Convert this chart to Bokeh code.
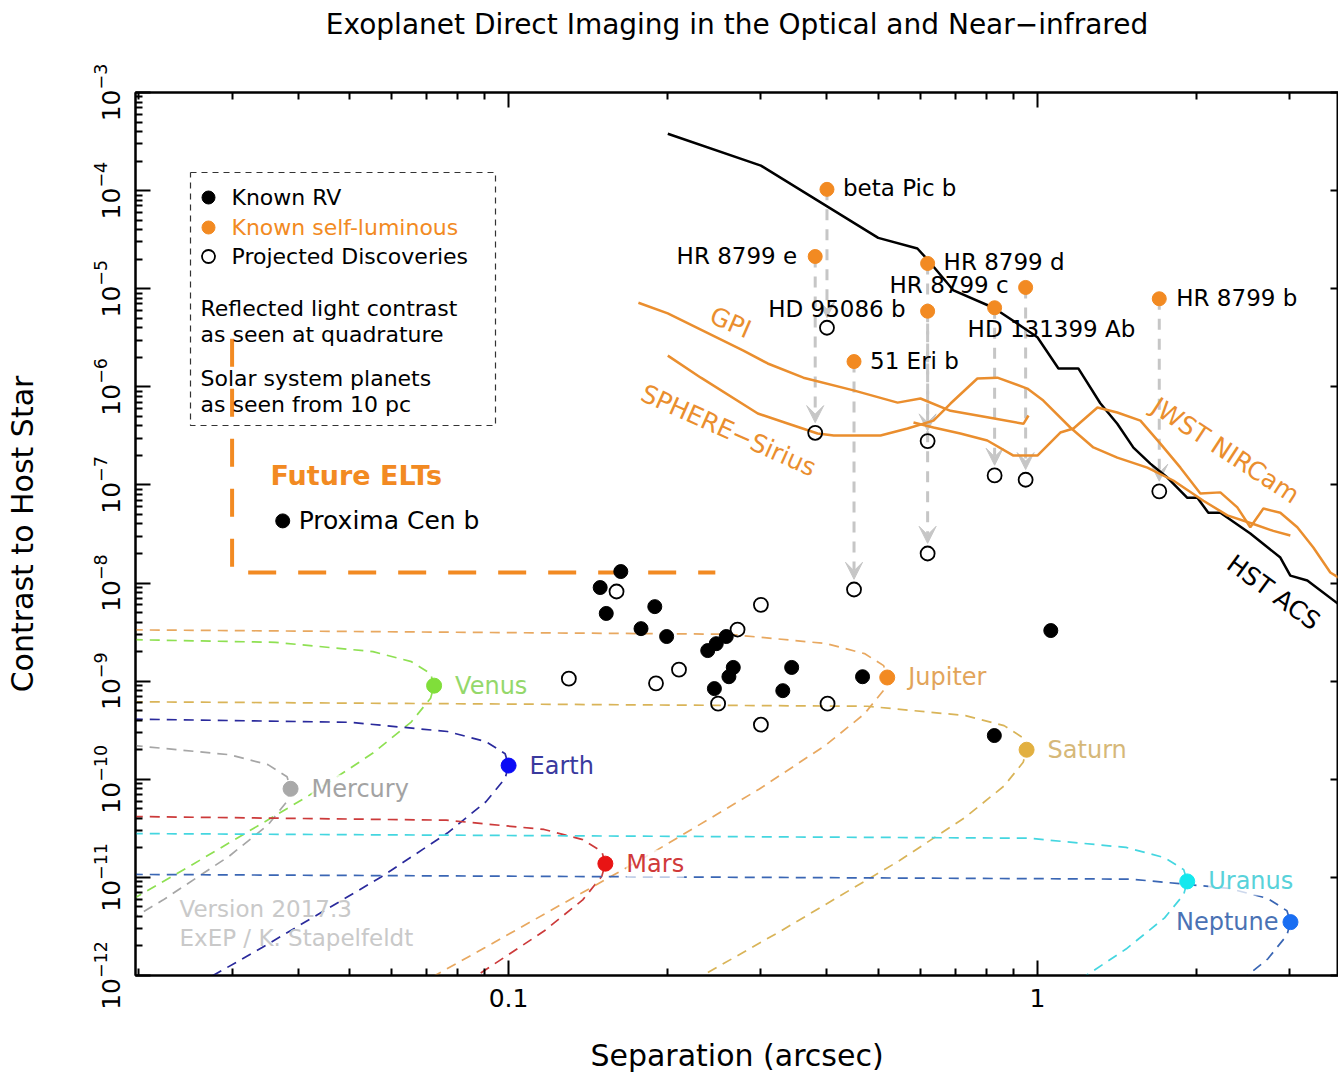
import numpy as np
from bokeh.plotting import figure
from bokeh.models import (LogAxis, FixedTicker, ColumnDataSource, Arrow, VeeHead,
                          CustomJSTickFormatter)
from bokeh.embed import file_html
from bokeh.resources import INLINE
from bokeh.core.properties import value

FONT = "DejaVu Sans"
TITLE = "Exoplanet Direct Imaging in the Optical and Near\u2212infrared"

# ------------------------------------------------------------------ axes / ticks
x_range = (0.0197, 3.71)
y_range = (1e-12, 1e-3)
x_major_ticks = [0.1, 1.0]
x_tick_labels = ["0.1", "1"]
x_minor_ticks = [0.02, 0.03, 0.04, 0.05, 0.06, 0.07, 0.08, 0.09,
                 0.2, 0.3, 0.4, 0.5, 0.6, 0.7, 0.8, 0.9, 2.0, 3.0]
y_major_ticks = [1e-12, 1e-11, 1e-10, 1e-9, 1e-8, 1e-7, 1e-6, 1e-5, 1e-4, 1e-3]
y_minor_ticks = [m * d for d in y_major_ticks[:-1] for m in range(2, 10)]

# ------------------------------------------------------------------ data
# Known RV planets (reflected light, quadrature)
rv_sep = [0.163, 0.149, 0.153, 0.189, 0.178, 0.199, 0.238, 0.247, 0.258, 0.266,
          0.261, 0.245, 0.343, 0.330, 0.467, 1.06, 0.829]
rv_con = [1.31e-8, 9.0e-9, 4.9e-9, 5.75e-9, 3.43e-9, 2.85e-9, 2.05e-9, 2.41e-9, 2.85e-9,
          1.38e-9, 1.11e-9, 8.4e-10, 1.38e-9, 8.0e-10, 1.11e-9, 3.28e-9, 2.79e-10]

# Projected discoveries (open circles)
proj_sep = [0.160, 0.300, 0.271, 0.130, 0.190, 0.210, 0.249, 0.401, 0.300]
proj_con = [8.2e-9, 6.0e-9, 3.36e-9, 1.06e-9, 9.5e-10, 1.31e-9, 5.9e-10, 5.9e-10, 3.6e-10]

# Known self-luminous planets and their projected reflected-light contrast
sl_names = ["beta Pic  b", "HR 8799 e", "HR 8799 d", "HD 95086 b", "HR 8799 c",
            "HD 131399 Ab", "51 Eri  b", "HR 8799 b"]
sl_sep = [0.40, 0.38, 0.62, 0.62, 0.95, 0.83, 0.45, 1.70]
sl_con = [1.03e-4, 2.13e-5, 1.81e-5, 5.9e-6, 1.03e-5, 6.4e-6, 1.81e-6, 7.9e-6]
sl_proj_con = [4.0e-6, 3.4e-7, 2.8e-7, 2.0e-8, 1.13e-7, 1.25e-7, 8.6e-9, 8.6e-8]

proxima_sep = [0.0374]
proxima_con = [4.3e-8]

# Future ELTs region
elt_sep = [0.030, 0.030, 0.246]
elt_con = [3.1e-6, 1.28e-8, 1.28e-8]

# Instrument contrast curves
hst_sep = [0.20, 0.30, 0.50, 0.593, 0.622, 0.694, 0.826, 0.929, 1.0, 1.096, 1.195, 1.315,
           1.416, 1.519, 1.635, 1.761, 1.921, 2.007, 2.105, 2.218, 2.527, 2.88, 3.008,
           3.239, 3.79]
hst_con = [3.8e-4, 1.8e-4, 3.3e-5, 2.57e-5, 1.94e-5, 9.6e-6, 6.4e-6, 4.2e-6, 3.2e-6,
           1.54e-6, 1.54e-6, 6.8e-7, 4.2e-7, 2.4e-7, 1.65e-7, 1.19e-7, 7.4e-8, 7.4e-8,
           5.2e-8, 5.2e-8, 3.2e-8, 1.82e-8, 1.19e-8, 1.06e-8, 5.6e-9]

gpi_sep = [0.176, 0.200, 0.278, 0.309, 0.361, 0.449, 0.544, 0.601, 0.685, 0.804, 0.941, 0.962]
gpi_con = [7.2e-6, 5.6e-6, 2.34e-6, 1.73e-6, 1.24e-6, 9.2e-7, 6.9e-7, 7.6e-7, 5.7e-7,
           4.9e-7, 4.2e-7, 5.1e-7]

sphere_sep = [0.200, 0.231, 0.296, 0.337, 0.384, 0.412, 0.505, 0.568, 0.636, 0.685, 0.770,
              0.840, 0.957, 1.026, 1.154, 1.276, 1.416, 1.614, 1.807, 2.06, 2.287, 2.561,
              2.793, 3.008]
sphere_con = [2.08e-6, 1.24e-6, 5.35e-7, 4.23e-7, 3.34e-7, 3.19e-7, 3.19e-7, 3.76e-7,
              4.53e-7, 6.76e-7, 1.215e-6, 1.24e-6, 9.6e-7, 7.25e-7, 3.85e-7, 2.41e-7,
              1.9e-7, 1.5e-7, 1.11e-7, 6.9e-8, 4.9e-8, 4.0e-8, 3.4e-8, 3.05e-8]

jwst_sep = [0.583, 0.636, 0.715, 0.804, 0.901, 1.0, 1.105, 1.17, 1.299, 1.416, 1.566,
            1.708, 1.864, 2.033, 2.218, 2.388, 2.527, 2.675, 2.88, 3.101, 3.325, 3.58, 3.79]
jwst_con = [4.33e-7, 3.85e-7, 3.34e-7, 2.84e-7, 1.99e-7, 1.99e-7, 3.42e-7, 3.76e-7,
            6.15e-7, 5.47e-7, 4.53e-7, 2.64e-7, 1.5e-7, 8.2e-8, 8.4e-8, 5.9e-8, 3.7e-8,
            5.75e-8, 5.2e-8, 3.7e-8, 2.3e-8, 1.28e-8, 1.06e-8]

# Solar system planets at 10 pc (quadrature points)
planet_names = ["Mercury", "Venus", "Earth", "Mars", "Jupiter", "Saturn", "Uranus", "Neptune"]
planet_sep = [0.0387, 0.0723, 0.100, 0.1524, 0.520, 0.954, 1.92, 3.01]
planet_con = [8.0e-11, 9.0e-10, 1.38e-10, 1.38e-11, 1.09e-9, 2.0e-10, 9.1e-12, 3.5e-12]

# Orbit tracks (separation, contrast)
mercury_orbit_sep = [0.01, 0.01935, 0.02964, 0.03507, 0.03811, 0.0387, 0.03811, 0.03507,
                     0.02964, 0.0222, 0.01324]
mercury_orbit_con = [2.52e-10, 2.22e-10, 1.78e-10, 1.41e-10, 1.06e-10, 8.0e-11, 5.95e-11,
                     3.42e-11, 1.65e-11, 5.87e-12, 1.12e-12]
venus_orbit_sep = [0.01, 0.0362, 0.0554, 0.0655, 0.0712, 0.0723, 0.0712, 0.0655, 0.0554,
                   0.0415, 0.0247, 0.0187, 0.0126]
venus_orbit_con = [2.83e-9, 2.49e-9, 2.0e-9, 1.58e-9, 1.19e-9, 9.0e-10, 6.7e-10, 3.85e-10,
                   1.85e-10, 6.6e-11, 1.26e-11, 5.3e-12, 1.6e-12]
earth_orbit_sep = [0.01, 0.050, 0.0766, 0.0906, 0.0985, 0.100, 0.0985, 0.0906, 0.0766,
                   0.0574, 0.0342, 0.0259]
earth_orbit_con = [4.33e-10, 3.81e-10, 3.07e-10, 2.42e-10, 1.82e-10, 1.38e-10, 1.02e-10,
                   5.9e-11, 2.83e-11, 1.01e-11, 1.93e-12, 8.2e-13]
mars_orbit_sep = [0.01, 0.0762, 0.1167, 0.1381, 0.1501, 0.1524, 0.1501, 0.1381, 0.1167,
                  0.0874, 0.0521]
mars_orbit_con = [4.35e-11, 3.83e-11, 3.08e-11, 2.43e-11, 1.83e-11, 1.38e-11, 1.03e-11,
                  5.9e-12, 2.84e-12, 1.01e-12, 1.94e-13]
jupiter_orbit_sep = [0.01, 0.26, 0.398, 0.471, 0.512, 0.520, 0.512, 0.471, 0.398, 0.298,
                     0.178, 0.0903, 0.0453]
jupiter_orbit_con = [3.42e-9, 3.01e-9, 2.42e-9, 1.91e-9, 1.44e-9, 1.09e-9, 8.1e-10,
                     4.65e-10, 2.23e-10, 7.96e-11, 1.52e-11, 1.93e-12, 2.42e-13]
saturn_orbit_sep = [0.01, 0.477, 0.731, 0.865, 0.940, 0.954, 0.940, 0.865, 0.731, 0.547,
                    0.326, 0.166]
saturn_orbit_con = [6.3e-10, 5.55e-10, 4.46e-10, 3.52e-10, 2.64e-10, 2.0e-10, 1.49e-10,
                    8.56e-11, 4.11e-11, 1.47e-11, 2.81e-12, 3.55e-13]
uranus_orbit_sep = [0.01, 0.96, 1.471, 1.74, 1.891, 1.92, 1.891, 1.74, 1.471, 1.101]
uranus_orbit_con = [2.85e-11, 2.51e-11, 2.02e-11, 1.59e-11, 1.2e-11, 9.1e-12, 6.7e-12,
                    3.87e-12, 1.86e-12, 6.6e-13]
neptune_orbit_sep = [0.01, 1.505, 2.306, 2.728, 2.964, 3.01, 2.964, 2.728, 2.306]
neptune_orbit_con = [1.09e-11, 9.6e-12, 7.72e-12, 6.09e-12, 4.57e-12, 3.5e-12, 2.58e-12,
                     1.48e-12, 7.1e-13]

orbits = {
    "Mercury": (mercury_orbit_sep, mercury_orbit_con),
    "Venus": (venus_orbit_sep, venus_orbit_con),
    "Earth": (earth_orbit_sep, earth_orbit_con),
    "Mars": (mars_orbit_sep, mars_orbit_con),
    "Jupiter": (jupiter_orbit_sep, jupiter_orbit_con),
    "Saturn": (saturn_orbit_sep, saturn_orbit_con),
    "Uranus": (uranus_orbit_sep, uranus_orbit_con),
    "Neptune": (neptune_orbit_sep, neptune_orbit_con),
}

# ------------------------------------------------------------------ styles
ORANGE = "#f28a22"
CURVE_ORANGE = "#ea8e2e"
ARROW_GRAY = "#c6c6c6"

planet_style = {
    "Mercury": dict(point="#a9a9a9", line="#a6a6a6", text="#a3a3a3", align="left", dx=21),
    "Venus":   dict(point="#80de3a", line="#8ee052", text="#94d86a", align="left", dx=21),
    "Earth":   dict(point="#0b0bf5", line="#2a2a9c", text="#3a3a9e", align="left", dx=21),
    "Mars":    dict(point="#e81414", line="#cc3a3a", text="#d03a3a", align="left", dx=21),
    "Jupiter": dict(point="#f28a22", line="#e8a860", text="#e2a45a", align="left", dx=21),
    "Saturn":  dict(point="#e2b040", line="#d9b458", text="#d6b878", align="left", dx=21),
    "Uranus":  dict(point="#14e8ee", line="#44d6e0", text="#58d2da", align="left", dx=21),
    "Neptune": dict(point="#1a6ef2", line="#3a66b4", text="#4a72b4", align="right", dx=-12),
}

sl_label_style = {  # (align, dx, dy) in screen pixels
    "beta Pic  b": ("left", 16, -1),
    "HR 8799 e": ("right", -18, -1),
    "HR 8799 d": ("left", 16, -1),
    "HD 95086 b": ("right", -22, -2),
    "HR 8799 c": ("right", -17, -2),
    "HD 131399 Ab": ("left", -27, 21),
    "51 Eri  b": ("left", 16, -1),
    "HR 8799 b": ("left", 17, -1),
}

# frame geometry on the page (used only to place annotations)
FRAME_L, FRAME_T, FRAME_W, FRAME_H = 135, 92, 1203, 883
_lx0, _lx1 = np.log10(x_range)
_ly0, _ly1 = np.log10(y_range)


def at(px, py):
    x = 10 ** (_lx0 + (px - FRAME_L) / FRAME_W * (_lx1 - _lx0))
    y = 10 ** (_ly1 - (py - FRAME_T) / FRAME_H * (_ly1 - _ly0))
    return x, y


# ------------------------------------------------------------------ figure
p = figure(x_axis_type="log", y_axis_type="log", x_range=x_range, y_range=y_range,
           frame_width=FRAME_W, frame_height=FRAME_H, output_backend="svg",
           toolbar_location=None, min_border_left=FRAME_L, min_border_top=FRAME_T,
           min_border_bottom=0, min_border_right=0)
p.grid.visible = False
p.outline_line_color = "black"
p.outline_line_width = 2
p.background_fill_color = "white"
p.border_fill_color = "white"


def style_axis(ax, major_in=15, minor_in=7):
    ax.axis_line_color = "black"
    ax.axis_line_width = 2
    ax.major_tick_in = major_in
    ax.major_tick_out = 0
    ax.minor_tick_in = minor_in
    ax.minor_tick_out = 0
    ax.major_tick_line_width = 2
    ax.minor_tick_line_width = 2
    ax.major_tick_line_color = "black"
    ax.minor_tick_line_color = "black"
    ax.major_label_text_font = FONT
    ax.major_label_text_color = "black"
    ax.axis_label_text_font = FONT
    ax.axis_label_text_color = "black"
    ax.axis_label_text_font_style = "normal"


xax = p.xaxis[0]
xax.ticker = FixedTicker(ticks=x_major_ticks, minor_ticks=x_minor_ticks)
xax.formatter = CustomJSTickFormatter(
    args=dict(major_vals=x_major_ticks, major_text=x_tick_labels),
    code="""
    for (let i = 0; i < major_vals.length; i++) {
        if (Math.abs(major_vals[i] - tick) < 1e-9 * Math.max(1, major_vals[i])) return major_text[i];
    }
    return String(tick);
    """)
style_axis(xax)
xax.major_label_text_font_size = "25px"
xax.major_label_standoff = 13
xax.axis_label = "Separation (arcsec)"
xax.axis_label_text_font_size = "30px"
xax.axis_label_standoff = 28

yax = p.yaxis[0]
yax.ticker = FixedTicker(ticks=y_major_ticks, minor_ticks=y_minor_ticks)
style_axis(yax)
yax.major_label_orientation = "vertical"
yax.major_label_text_font_size = "25px"
yax.major_label_standoff = 16
yax.axis_label = "Contrast to Host Star"
yax.axis_label_text_font_size = "30px"
yax.axis_label_standoff = 50

# top axis: ticks only, carries the chart title as its label
top_ax = LogAxis(ticker=FixedTicker(ticks=x_major_ticks, minor_ticks=x_minor_ticks))
style_axis(top_ax)
top_ax.major_label_text_font_size = "1px"
top_ax.major_label_text_alpha = 0
top_ax.major_label_standoff = 0
top_ax.axis_label = TITLE
top_ax.axis_label_text_font_size = "28px"
top_ax.axis_label_standoff = 52
p.add_layout(top_ax, "above")

right_ax = LogAxis(ticker=FixedTicker(ticks=y_major_ticks, minor_ticks=[]))
style_axis(right_ax, major_in=8, minor_in=0)
right_ax.major_label_text_font_size = "1px"
right_ax.major_label_text_alpha = 0
right_ax.major_label_standoff = 0
p.add_layout(right_ax, "right")

# ------------------------------------------------------------------ planet orbit tracks
for name in planet_names:
    s, c = orbits[name]
    p.line(s, c, line_color=planet_style[name]["line"], line_width=1.7, line_dash="10 7")

# ------------------------------------------------------------------ instrument curves
p.line(hst_sep, hst_con, line_color="black", line_width=2.5)
p.line(gpi_sep, gpi_con, line_color=CURVE_ORANGE, line_width=2.5)
p.line(sphere_sep, sphere_con, line_color=CURVE_ORANGE, line_width=2.5)
p.line(jwst_sep, jwst_con, line_color=CURVE_ORANGE, line_width=2.5)

# Future ELTs
p.line(elt_sep, elt_con, line_color=ORANGE, line_width=4, line_dash="28 22")

# arrows from self-luminous to projected reflected light
arrow_src = ColumnDataSource(dict(x0=sl_sep, y0=sl_con, x1=sl_sep,
                                  y1=[c * 1.27 for c in sl_proj_con]))
p.add_layout(Arrow(end=VeeHead(size=17, fill_color=ARROW_GRAY, line_color=ARROW_GRAY),
                   x_start="x0", y_start="y0", x_end="x1", y_end="y1", source=arrow_src,
                   line_color=ARROW_GRAY, line_width=3, line_dash="11 9", level="underlay"))

# ------------------------------------------------------------------ points
p.scatter(rv_sep, rv_con, size=14, color="black")
p.scatter(proj_sep, proj_con, size=14, fill_color=None, line_color="black", line_width=1.8)
p.scatter(sl_sep, sl_proj_con, size=14, fill_color=None, line_color="black", line_width=1.8)
p.scatter(sl_sep, sl_con, size=14, color=ORANGE)
p.scatter(proxima_sep, proxima_con, size=14, color="black")
p.scatter(planet_sep, planet_con, size=15,
          color=[planet_style[n]["point"] for n in planet_names])

# ------------------------------------------------------------------ labels
for align in ("left", "right"):
    idx = [i for i, n in enumerate(sl_names) if sl_label_style[n][0] == align]
    p.text(x=[sl_sep[i] for i in idx], y=[sl_con[i] for i in idx],
           text=[sl_names[i] for i in idx],
           x_offset=[sl_label_style[sl_names[i]][1] for i in idx],
           y_offset=[sl_label_style[sl_names[i]][2] for i in idx],
           text_font=value(FONT), text_font_size="23px", text_color="black",
           text_align=align, text_baseline="middle")

p.text(x=proxima_sep, y=proxima_con, text=["Proxima Cen b"], x_offset=16,
       text_font=value(FONT), text_font_size="25px", text_color="black",
       text_align="left", text_baseline="middle")

for i, n in enumerate(planet_names):
    st = planet_style[n]
    p.text(x=[planet_sep[i]], y=[planet_con[i]], text=[n], x_offset=st["dx"],
           text_font=value(FONT), text_font_size="24px", text_color=st["text"],
           text_align=st["align"], text_baseline="middle",
           background_fill_color="white", background_fill_alpha=0.75)

# rotated instrument labels
rot_labels = [
    ("GPI", 730, 322, -0.41, CURVE_ORANGE),
    ("SPHERE\u2212Sirius", 728, 430, -0.42, CURVE_ORANGE),
    ("JWST NIRCam", 1225, 450, -0.58, CURVE_ORANGE),
    ("HST ACS", 1273, 592, -0.63, "black"),
]
for t, px, py, ang, col in rot_labels:
    x, y = at(px, py)
    p.text(x=[x], y=[y], text=[t], angle=ang, text_font=value(FONT),
           text_font_size="25px", text_color=col, text_align="center",
           text_baseline="middle")

x, y = at(270, 475)
p.text(x=[x], y=[y], text=["Future ELTs"], text_font=value(FONT), text_font_size="27px",
       text_font_style="bold", text_color=ORANGE, text_align="left", text_baseline="middle")

for t, py in (("Version 2017.3", 908), ("ExEP / K. Stapelfeldt", 937)):
    x, y = at(179, py)
    p.text(x=[x], y=[y], text=[t], text_font=value(FONT), text_font_size="23px",
           text_color="#c9c9c9", text_align="left", text_baseline="middle")

# ------------------------------------------------------------------ legend box
bl, bt = at(190, 172)
br, bb = at(495, 425)
p.line([bl, br, br, bl, bl], [bt, bt, bb, bb, bt], line_color="#333333", line_width=1.2,
       line_dash="6 5")
legend_rows = [
    ("Known RV", 197, "black", "fill"),
    ("Known self-luminous", 227, ORANGE, "fill"),
    ("Projected Discoveries", 256, "black", "open"),
]
for t, py, col, kind in legend_rows:
    mx, my = at(208, py)
    if kind == "fill":
        p.scatter([mx], [my], size=13, color=col)
    else:
        p.scatter([mx], [my], size=13, fill_color=None, line_color="black", line_width=1.8)
    tx, ty = at(231, py)
    p.text(x=[tx], y=[ty], text=[t], text_font=value(FONT), text_font_size="22px",
           text_color=col, text_align="left", text_baseline="middle")
for t, py in (("Reflected light contrast", 308), ("as seen at quadrature", 334),
              ("Solar system planets", 378), ("as seen from 10 pc", 404)):
    tx, ty = at(200, py)
    p.text(x=[tx], y=[ty], text=[t], text_font=value(FONT), text_font_size="22px",
           text_color="black", text_align="left", text_baseline="middle")

open("out.html", "w").write(file_html(p, INLINE))
